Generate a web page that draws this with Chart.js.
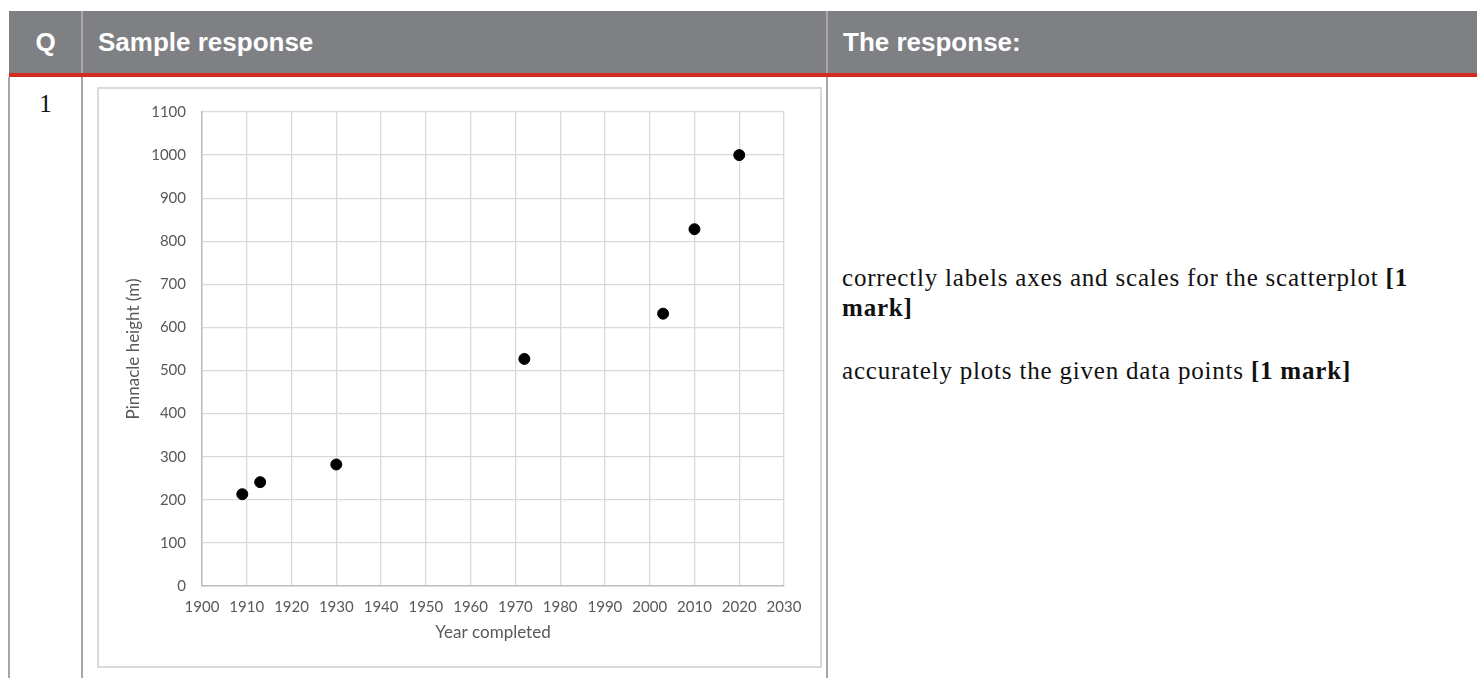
<!DOCTYPE html>
<html>
<head>
<meta charset="utf-8">
<script src="https://cdn.jsdelivr.net/npm/chart.js@4"></script>
<style>
    body { margin: 0; background: #fff; width: 1477px; height: 678px; overflow: hidden; position: relative; }
    .hdr { position: absolute; left: 9px; top: 11px; width: 1468px; height: 62px; background: #7f8084; }
    .red { position: absolute; left: 9px; top: 73px; width: 1468px; height: 4px; background: #d52b1e; }
    .hcell { position: absolute; top: 11px; height: 62px; color: #fff; font: bold 26px/62px "Liberation Sans", Arial, sans-serif; }
    .vline { position: absolute; width: 2px; background: #a6a6a8; }
    .qnum { position: absolute; left: 9px; width: 73px; top: 91px; text-align: center; font: 25px/25px "Liberation Serif", serif; color: #111; }
    .box { position: absolute; left: 97px; top: 87px; width: 721px; height: 577px; border: 2px solid #d9d9d9; }
    #scatterChart { position: absolute; left: 97px; top: 87px; }
    .resp { position: absolute; left: 842px; top: 263px; width: 595px; font: 25px/30px "Liberation Serif", serif; letter-spacing: 0.8px; color: #111; }
    .resp p { margin: 0 0 33px 0; }
</style>
</head>
<body>
<div class="hdr"></div>
<div class="vline" style="left:81px; top:11px; height:62px; background:#a9a9ad;"></div>
<div class="vline" style="left:826px; top:11px; height:62px; background:#a9a9ad;"></div>
<div class="hcell" style="left:9px; width:73px; text-align:center;">Q</div>
<div class="hcell" style="left:98px;">Sample response</div>
<div class="hcell" style="left:843px;">The response:</div>
<div class="red"></div>

<div class="vline" style="left:8px; top:77px; height:601px;"></div>
<div class="vline" style="left:81px; top:77px; height:601px;"></div>
<div class="vline" style="left:826px; top:77px; height:601px;"></div>

<div class="qnum">1</div>
<div class="box"></div>
<canvas id="scatterChart" width="725" height="581"></canvas>

<div class="resp">
    <p>correctly labels axes and scales for the scatterplot <b>[1 mark]</b></p>
    <p>accurately plots the given data points <b>[1 mark]</b></p>
</div>

<script>
// year completed vs pinnacle height
var years = [1909, 1913, 1930, 1972, 2003, 2010, 2020];
var heights = [213, 241, 282, 527, 632, 828, 1000];

var xTitle = "Year completed";
var yTitle = "Pinnacle height (m)";

var points = years.map(function (y, i) {
    return { x: y, y: heights[i] };
});

var axisFont = { family: "Lato", size: 15 };
var titleFont = { family: "Lato", size: 17 };

var ctx = document.getElementById('scatterChart').getContext('2d');
new Chart(ctx, {
    type: 'scatter',
    data: {
        datasets: [{
            data: points,
            backgroundColor: '#000',
            borderColor: '#000',
            pointRadius: 5.5,
            pointHoverRadius: 5.5
        }]
    },
    options: {
        responsive: false,
        animation: false,
        layout: {
            padding: { left: 0, top: 22, right: 38, bottom: 0 }
        },
        plugins: {
            legend: { display: false },
            tooltip: { enabled: false }
        },
        scales: {
            x: {
                type: 'linear',
                min: 1900,
                max: 2030,
                grid: { color: '#d9d9d9', lineWidth: 1.3, drawTicks: false },
                border: { color: '#bfbfbf', width: 1.5 },
                ticks: {
                    stepSize: 10,
                    padding: 12,
                    color: '#595959',
                    font: axisFont,
                    callback: function (v) { return String(v); }
                },
                title: {
                    display: true,
                    text: xTitle,
                    color: '#595959',
                    font: titleFont,
                    padding: { top: 0, bottom: 25 }
                },
                afterFit: function (scale) { scale.height = 82; }
            },
            y: {
                min: 0,
                max: 1100,
                grid: { color: '#d9d9d9', lineWidth: 1.3, drawTicks: false },
                border: { color: '#bfbfbf', width: 1.5 },
                ticks: {
                    stepSize: 100,
                    padding: 16,
                    color: '#595959',
                    font: axisFont,
                    callback: function (v) { return String(v); }
                },
                title: {
                    display: true,
                    text: yTitle,
                    color: '#595959',
                    font: titleFont,
                    padding: { top: 26, bottom: 0 }
                },
                afterFit: function (scale) { scale.width = 105; }
            }
        }
    }
});
</script>
</body>
</html>
